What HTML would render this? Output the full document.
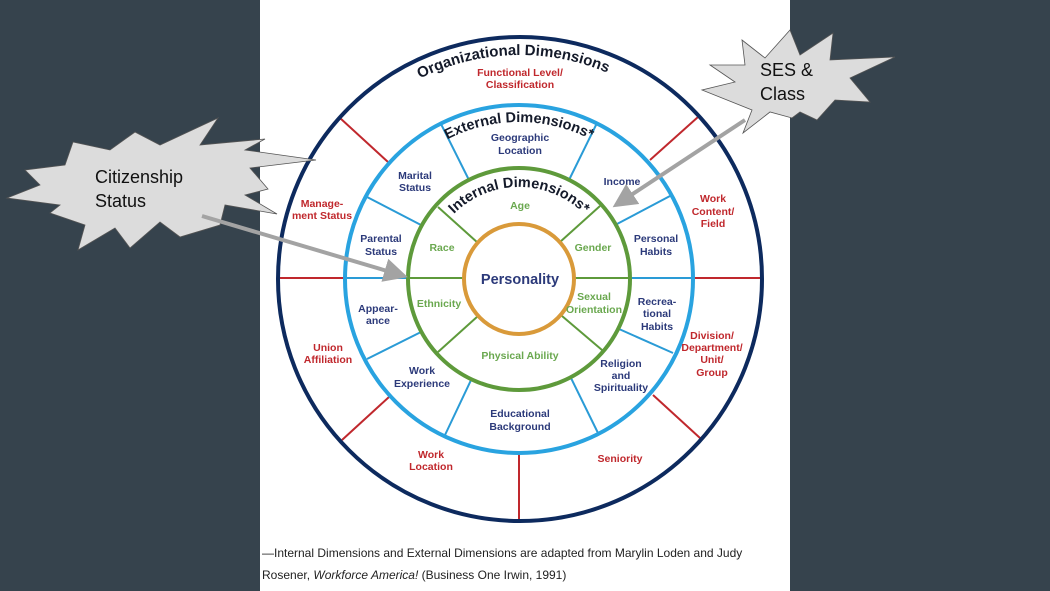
<!DOCTYPE html>
<html><head><meta charset="utf-8"><style>
html,body{margin:0;padding:0;width:1050px;height:591px;overflow:hidden;background:#36434d;}
svg{display:block}
</style></head><body>
<svg width="1050" height="591" viewBox="0 0 1050 591" xmlns="http://www.w3.org/2000/svg" font-family="Liberation Sans, sans-serif">
<defs>
<path id="orgArc" d="M 296 279 A 224 224 0 0 1 744 279"/>
<path id="extArc" d="M 362 279 A 157 157 0 0 1 676 279"/>
<path id="intArc" d="M 427 279 A 92 92 0 0 1 611 279"/>
<marker id="ah" markerWidth="6" markerHeight="6" refX="5" refY="3" orient="auto" markerUnits="strokeWidth"><path d="M0,0 L6,3 L0,6 z" fill="#a3a3a3"/></marker>
</defs>
<rect x="260" y="0" width="530" height="591" fill="#fff"/>
<g stroke="#c0282d" stroke-width="2">
<line x1="278" y1="278" x2="345" y2="278"/><line x1="693" y1="278" x2="762" y2="278"/>
<line x1="340" y1="118" x2="388" y2="162"/><line x1="698" y1="117" x2="650" y2="160"/>
<line x1="342" y1="440" x2="389" y2="397"/><line x1="700" y1="438" x2="653" y2="395"/>
<line x1="519" y1="452" x2="519" y2="522"/>
</g>
<g stroke="#2a9bd6" stroke-width="2">
<line x1="345" y1="278" x2="408" y2="278"/><line x1="630" y1="278" x2="693" y2="278"/>
<line x1="440" y1="122" x2="469" y2="180"/><line x1="597" y1="123" x2="569" y2="180"/>
<line x1="367" y1="197" x2="421" y2="225"/><line x1="670" y1="196" x2="617" y2="224"/>
<line x1="367" y1="359" x2="421" y2="332"/><line x1="673" y1="353" x2="619" y2="329"/>
<line x1="445" y1="435" x2="472" y2="378"/><line x1="598" y1="433" x2="570" y2="376"/>
</g>
<g stroke="#5e9a3b" stroke-width="2">
<line x1="408" y1="278" x2="464" y2="278"/><line x1="574" y1="278" x2="630" y2="278"/>
<line x1="438" y1="207" x2="478" y2="243"/><line x1="600" y1="206" x2="560" y2="242"/>
<line x1="438" y1="352" x2="478" y2="316"/><line x1="602" y1="350" x2="562" y2="316"/>
</g>
<circle cx="520" cy="279" r="242" fill="none" stroke="#0d2a5e" stroke-width="4"/>
<circle cx="519" cy="279" r="174" fill="none" stroke="#29a3e0" stroke-width="4"/>
<circle cx="519" cy="279" r="111" fill="none" stroke="#5e9a3b" stroke-width="4"/>
<circle cx="519" cy="279" r="55" fill="#fff" stroke="#d99a3a" stroke-width="4"/>
<g font-weight="bold" fill="#141a2a">
<text font-size="15" text-anchor="middle"><textPath href="#orgArc" startOffset="49%">Organizational Dimensions</textPath></text>
<text font-size="14.5" text-anchor="middle"><textPath href="#extArc" startOffset="50%">External Dimensions*</textPath></text>
<text font-size="14.5" text-anchor="middle"><textPath href="#intArc" startOffset="50%">Internal Dimensions*</textPath></text>
</g>
<g font-size="10.5" font-weight="bold" text-anchor="middle">
<g fill="#c0282d">
<text x="520" y="76">Functional Level/</text><text x="520" y="88">Classification</text>
<text x="322" y="207">Manage-</text><text x="322" y="219">ment Status</text>
<text x="713" y="202">Work</text><text x="713" y="215">Content/</text><text x="713" y="227">Field</text>
<text x="328" y="351">Union</text><text x="328" y="363">Affiliation</text>
<text x="712" y="339">Division/</text><text x="712" y="351">Department/</text><text x="712" y="363">Unit/</text><text x="712" y="376">Group</text>
<text x="431" y="458">Work</text><text x="431" y="470">Location</text>
<text x="620" y="462">Seniority</text>
</g>
<g fill="#2c3a7a">
<text x="520" y="141">Geographic</text><text x="520" y="154">Location</text>
<text x="415" y="179">Marital</text><text x="415" y="191">Status</text>
<text x="622" y="185">Income</text>
<text x="381" y="242">Parental</text><text x="381" y="255">Status</text>
<text x="656" y="242">Personal</text><text x="656" y="255">Habits</text>
<text x="378" y="312">Appear-</text><text x="378" y="324">ance</text>
<text x="657" y="305">Recrea-</text><text x="657" y="317">tional</text><text x="657" y="330">Habits</text>
<text x="621" y="367">Religion</text><text x="621" y="379">and</text><text x="621" y="391">Spirituality</text>
<text x="422" y="374">Work</text><text x="422" y="387">Experience</text>
<text x="520" y="417">Educational</text><text x="520" y="430">Background</text>
<text x="520" y="284" font-size="14.5">Personality</text>
</g>
<g fill="#6aa84f">
<text x="520" y="209">Age</text>
<text x="442" y="251">Race</text>
<text x="593" y="251">Gender</text>
<text x="439" y="307">Ethnicity</text>
<text x="594" y="300">Sexual</text><text x="594" y="313">Orientation</text>
<text x="520" y="359">Physical Ability</text>
</g>
</g>
<polygon points="73,142 110,150 135,132 160,145 218,118 200,145 265,139 245,150 316,160 250,168 268,189 245,195 277,214 225,205 220,225 180,237 160,222 130,248 115,228 78,250 85,225 50,213 60,205 7,198 40,185 25,170 65,165" fill="#dcdcdc" stroke="#555" stroke-width="0.8"/>
<text x="95" y="183" font-size="18" fill="#111">Citizenship</text>
<text x="95" y="207" font-size="18" fill="#111">Status</text>
<line x1="202" y1="216" x2="404" y2="276" stroke="#a3a3a3" stroke-width="4" marker-end="url(#ah)"/>
<polygon points="742,40 765,58 790,30 800,55 833,33 830,60 895,57 850,78 870,102 835,100 817,120 800,112 792,118 770,112 743,133 752,110 702,90 735,82 710,65 745,65" fill="#dcdcdc" stroke="#555" stroke-width="0.8"/>
<text x="760" y="76" font-size="18" fill="#111">SES &amp;</text>
<text x="760" y="100" font-size="18" fill="#111">Class</text>
<line x1="745" y1="120" x2="616" y2="205" stroke="#a3a3a3" stroke-width="4" marker-end="url(#ah)"/>
<text x="262" y="557" font-size="12" fill="#222">—Internal Dimensions and External Dimensions are adapted from Marylin Loden and Judy</text>
<text x="262" y="579" font-size="12" fill="#222">Rosener, <tspan font-style="italic">Workforce America!</tspan> (Business One Irwin, 1991)</text>
</svg>
</body></html>
